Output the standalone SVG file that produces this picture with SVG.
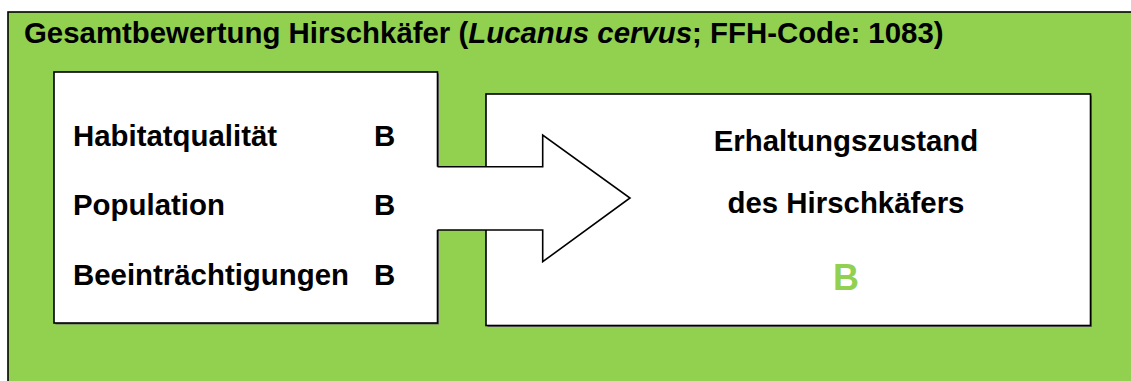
<svg xmlns="http://www.w3.org/2000/svg" width="1131" height="381" viewBox="0 0 1131 381">
  <style>
    .lbl { font-family: "Liberation Sans", Arial, sans-serif; font-weight: bold; font-size: 29.4px; fill: #000; }
    .box { fill: #fff; stroke: #000; stroke-width: 1.6; }
    .shadow { fill: #6b6b6b; }
  </style>

  <!-- white page -->
  <rect x="0" y="0" width="1131" height="381" fill="#fff"/>

  <!-- green panel, runs off the right and bottom edges -->
  <g id="panel">
    <rect x="8" y="12" width="1140" height="390" fill="#92D050" stroke="#000" stroke-width="1.6"/>
    <text class="lbl" x="24" y="42.5">Gesamtbewertung Hirschkäfer (<tspan font-style="italic">Lucanus cervus</tspan>; FFH-Code: 1083)</text>
  </g>

  <!-- criteria box -->
  <g id="criteria">
    <rect class="shadow" x="55.5" y="73.5" width="383.5" height="251"/>
    <rect class="box" x="54" y="72" width="383.5" height="251"/>
    <text class="lbl" x="73" y="145.5">Habitatqualität</text>
    <text class="lbl" x="374" y="145.5">B</text>
    <text class="lbl" x="73" y="215">Population</text>
    <text class="lbl" x="374" y="215">B</text>
    <text class="lbl" x="73" y="284.5">Beeinträchtigungen</text>
    <text class="lbl" x="374" y="284.5">B</text>
  </g>

  <!-- result box -->
  <g id="result">
    <rect class="shadow" x="487.5" y="95.5" width="604.5" height="231.5"/>
    <rect class="box" x="486" y="94" width="604.5" height="231.5"/>
    <text class="lbl" x="846" y="150.5" text-anchor="middle">Erhaltungszustand</text>
    <text class="lbl" x="846" y="212.5" text-anchor="middle">des Hirschkäfers</text>
    <text x="846" y="289.5" text-anchor="middle" font-family="Liberation Sans, Arial, sans-serif" font-weight="bold" font-size="36" fill="#92D050">B</text>
  </g>

  <!-- block arrow joining the two boxes -->
  <g id="connectors">
    <polygon points="436,166.7 542.7,166.7 542.7,135 630,198 542.7,261.7 542.7,230 436,230" fill="#fff"/>
    <polyline points="437.5,166.7 542.7,166.7 542.7,135 630,198 542.7,261.7 542.7,230 437.5,230" fill="none" stroke="#000" stroke-width="1.6" stroke-linejoin="miter"/>
  </g>
</svg>
